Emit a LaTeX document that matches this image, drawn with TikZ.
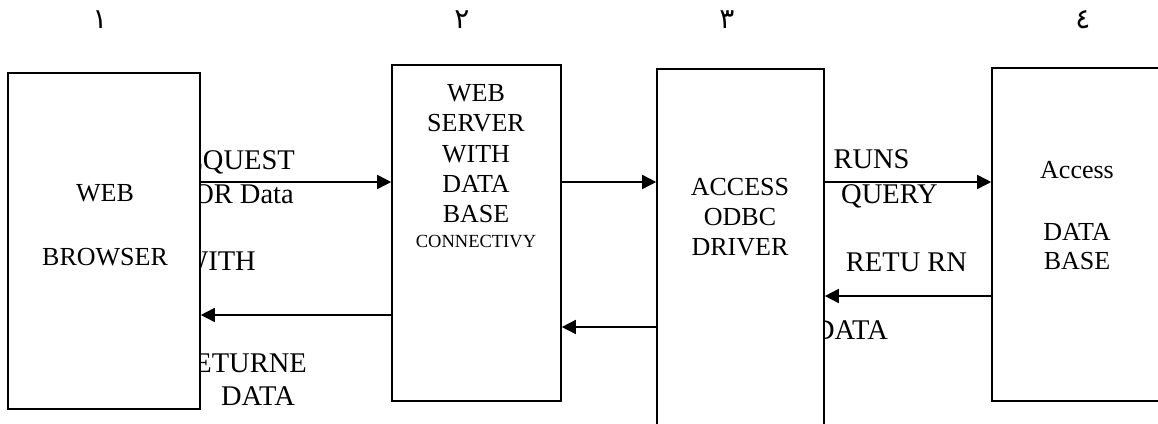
\documentclass[tikz,border=0pt]{standalone}
\usepackage{fontspec}
\setmainfont{Liberation Serif}
\newfontfamily\arabicfont[Script=Arabic]{DejaVu Sans}
\usetikzlibrary{arrows.meta}
\tikzset{
  box/.style={draw=black, line width=1.6pt, fill=white, rectangle, inner sep=0pt},
  lbl/.style={inner sep=0pt, font=\fontsize{26}{30}\selectfont},
  side/.style={inner sep=0pt, font=\fontsize{28.5}{33}\selectfont},
  small/.style={inner sep=0pt, font=\fontsize{18.5}{22}\selectfont},
  num/.style={inner sep=0pt, font=\arabicfont\fontsize{28}{32}\selectfont},
  arr/.style={line width=1.6pt, -{Triangle[length=14pt,width=14pt]}}
}
\begin{document}
\begin{tikzpicture}[x=1pt,y=-1pt]
\useasboundingbox (0,0) rectangle (1158,423);
% numbers
\node[num, anchor=base] (n1) at (100,28) {١};
\node[num, anchor=base] (n2) at (462,28) {٢};
\node[num, anchor=base] (n3) at (727,28) {٣};
\node[num, anchor=base] (n4) at (1083,28) {٤};
% labels partly hidden behind boxes
\node[side, anchor=base east] (l1) at (295,169) {REQUEST};
\node[side, anchor=base east] (l2) at (294,203) {FOR Data};
\node[side, anchor=base east] (l3) at (256,270) {WITH};
\node[side, anchor=base east] (l4) at (307,372) {RETURNE};
\node[side, anchor=base] (l5) at (258,405) {DATA};
\node[side, anchor=base] (l6) at (871.5,168) {RUNS};
\node[side, anchor=base] (l7) at (889.5,203) {QUERY};
\node[side, anchor=base] (l8) at (906.5,271) {RETU RN};
\node[side, anchor=base east] (l9) at (888,339) {DATA};
% boxes
\node[box, minimum width=192pt, minimum height=336pt] (b1) at (104,241) {};
\node[box, minimum width=169pt, minimum height=336pt] (b2) at (476.5,233) {};
\node[box, minimum width=167pt, minimum height=391pt] (b3) at (740.5,264.5) {};
\node[box, minimum width=188pt, minimum height=333pt] (b4) at (1086,234.5) {};
% box texts
\node[lbl, anchor=base] (t1a) at (105,201) {WEB};
\node[lbl, anchor=base] (t1b) at (105,265) {BROWSER};
\node[lbl, anchor=base] (t2a) at (476,101) {WEB};
\node[lbl, anchor=base] (t2b) at (476,131) {SERVER};
\node[lbl, anchor=base] (t2c) at (476,162) {WITH};
\node[lbl, anchor=base] (t2d) at (476,192) {DATA};
\node[lbl, anchor=base] (t2e) at (476,222) {BASE};
\node[small, anchor=base] (t2f) at (476,247) {CONNECTIVY};
\node[lbl, anchor=base] (t3a) at (740,195) {ACCESS};
\node[lbl, anchor=base] (t3b) at (740,225) {ODBC};
\node[lbl, anchor=base] (t3c) at (740,255) {DRIVER};
\node[lbl, anchor=base] (t4a) at (1077,178) {Access};
\node[lbl, anchor=base] (t4b) at (1077,240) {DATA};
\node[lbl, anchor=base] (t4c) at (1077,269) {BASE};
% arrows
\draw[arr] (b1.east |- 0,182) -- (b2.west |- 0,182);
\draw[arr] (b2.west |- 0,315) -- (b1.east |- 0,315);
\draw[arr] (b2.east |- 0,182) -- (b3.west |- 0,182);
\draw[arr] (b3.west |- 0,327) -- (b2.east |- 0,327);
\draw[arr] (b3.east |- 0,182) -- (b4.west |- 0,182);
\draw[arr] (b4.west |- 0,296) -- (b3.east |- 0,296);
\end{tikzpicture}
\end{document}
